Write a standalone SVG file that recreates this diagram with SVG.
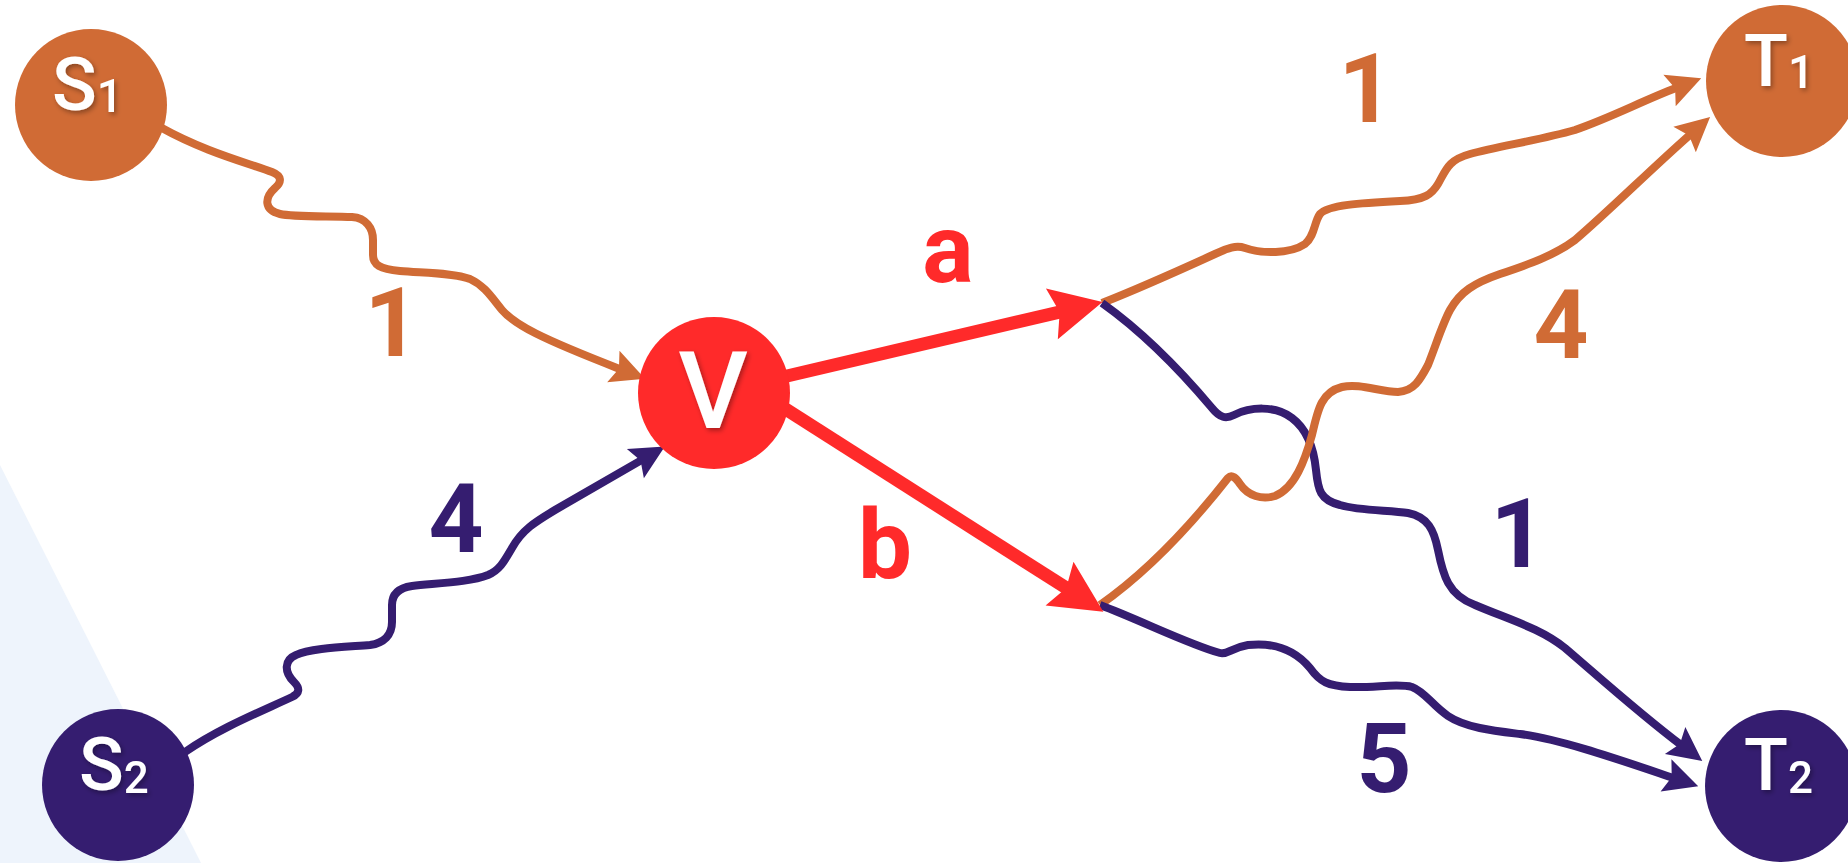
<svg xmlns="http://www.w3.org/2000/svg" width="1848" height="863" viewBox="0 0 1848 863">
  <style>
    .bg { fill: #EEF4FC; }
    .edge { fill: none; stroke-width: 8; stroke-linecap: butt; stroke-linejoin: round; }
    .or { stroke: #D06B35; }
    .pu { stroke: #351D70; }
    .red { fill: none; stroke: #FF2A2A; stroke-width: 13; }
    .nodeO { fill: #D06B35; }
    .nodeP { fill: #351D70; }
    .nodeR { fill: #FF2A2A; }
    .nl { font-family: Roboto, "Liberation Sans", Arial, sans-serif; font-weight: 500; fill: #FFFFFF; filter: url(#shadow); }
    .lbl { font-family: Roboto, "Liberation Sans", Arial, sans-serif; font-weight: 700; font-size: 96px; text-anchor: middle; }
  </style>
  <defs>
    <filter id="shadow" x="-20%" y="-20%" width="140%" height="140%">
      <feDropShadow dx="2" dy="2.5" stdDeviation="2.5" flood-color="#000000" flood-opacity="0.35"/>
    </filter>
    <marker id="hO" markerUnits="userSpaceOnUse" viewBox="0 0 34 34" markerWidth="34" markerHeight="34" refX="8" refY="17" orient="auto" overflow="visible">
      <path d="M34,17 L0,0 L6,17 L0,34 Z" fill="#D06B35"/>
    </marker>
    <marker id="hP" markerUnits="userSpaceOnUse" viewBox="0 0 34 34" markerWidth="34" markerHeight="34" refX="8" refY="17" orient="auto" overflow="visible">
      <path d="M34,17 L0,0 L6,17 L0,34 Z" fill="#351D70"/>
    </marker>
    <marker id="hR" markerUnits="userSpaceOnUse" viewBox="0 0 52 52" markerWidth="52" markerHeight="52" refX="11" refY="26" orient="auto" overflow="visible">
      <path d="M52,26 L0,0 L8,26 L0,52 Z" fill="#FF2A2A"/>
    </marker>
  </defs>

  <polygon class="bg" points="0,465 201,863 0,863"/>

  <g id="connectors">
    <path id="e-s1-v" class="edge or" marker-end="url(#hO)" d="M 160,127 C 205,152 245,162 272,172 C 282,176 282,182 275,188 C 264,198 264,210 280,214 C 292,217 330,216 352,217 C 366,218 373,228 373,240 L 373,255 C 373,265 380,269 400,271 C 425,273 455,273 470,279 C 485,286 492,298 502,310 C 515,325 540,338 620.8,369.4"/>
    <path id="e-s2-v" class="edge pu" marker-end="url(#hP)" d="M 185,752 C 220,728 260,712 292,697 C 300,693 300,688 294,682 C 284,672 284,660 296,655 C 310,648 345,647 370,645 C 384,643 392,635 392,622 L 392,605 C 392,595 398,588 412,586 C 440,583 470,582 488,575 C 500,570 505,560 512,548 C 522,530 535,522 555,510 L 642.3,459.6"/>
    <path id="e-a-t1" class="edge or" marker-end="url(#hO)" d="M 1102,303 C 1140,288 1180,270 1215,254 C 1228,248 1236,245 1245,248 C 1262,254 1290,254 1305,244 C 1315,236 1314,222 1320,214 C 1328,205 1360,203 1400,201 C 1425,200 1432,194 1438,184 C 1446,170 1448,160 1470,154 C 1500,146 1540,140 1575,130 C 1610,118 1640,102 1677,87.6"/>
    <path id="e-a-t2" class="edge pu" marker-end="url(#hP)" d="M 1102,303 C 1140,330 1180,370 1212,408 C 1220,418 1226,419 1234,415 C 1250,407 1275,405 1292,418 C 1308,430 1314,450 1316,470 C 1318,490 1320,500 1340,505 C 1360,511 1390,510 1408,513 C 1428,517 1434,530 1438,550 C 1443,575 1448,595 1475,605 C 1510,620 1540,628 1565,648 C 1600,678 1640,714 1681.5,745.3"/>
    <path id="e-b-t1" class="edge or" marker-end="url(#hO)" d="M 1100,605 C 1150,570 1195,520 1228,478 C 1232,474 1236,478 1240,484 C 1248,496 1262,500 1275,496 C 1295,488 1305,460 1312,435 C 1318,408 1322,392 1342,387 C 1360,383 1380,392 1398,392 C 1414,391 1420,380 1428,365 C 1436,345 1442,325 1450,310 C 1460,292 1474,283 1500,274 C 1530,264 1555,255 1575,240 C 1610,210 1650,170 1690.6,134.2"/>
    <path id="e-b-t2" class="edge pu" marker-end="url(#hP)" d="M 1100,605 C 1140,620 1190,645 1220,653 C 1228,655 1230,648 1248,645 C 1275,642 1295,650 1310,668 C 1320,682 1328,686 1350,687 C 1375,688 1398,683 1412,687 C 1425,692 1432,705 1448,716 C 1466,728 1495,731 1520,734 C 1560,739 1620,760 1673.6,778"/>
    <path id="e-v-a" class="red" marker-end="url(#hR)" d="M 740,387 L 1062.6,311.3"/>
    <path id="e-v-b" class="red" marker-end="url(#hR)" d="M 762,394 L 1068.8,589.6"/>

    <text class="lbl" x="392" y="356" fill="#D06B35">1</text>
    <text class="lbl" x="456" y="552" fill="#351D70">4</text>
    <text class="lbl" x="948" y="282" fill="#FF2A2A" font-size="100">a</text>
    <text class="lbl" x="885" y="578" fill="#FF2A2A" font-size="98">b</text>
    <text class="lbl" x="1366" y="122" fill="#D06B35">1</text>
    <text class="lbl" x="1561" y="358" fill="#D06B35">4</text>
    <text class="lbl" x="1518" y="567" fill="#351D70">1</text>
    <text class="lbl" x="1384" y="792" fill="#351D70">5</text>
  </g>

  <g id="node-s1">
    <circle class="nodeO" cx="91" cy="105" r="76"/>
    <text class="nl" x="52" y="110" font-size="74">S<tspan font-size="46" dy="2">1</tspan></text>
  </g>
  <g id="node-s2">
    <circle class="nodeP" cx="118" cy="785" r="76"/>
    <text class="nl" x="79" y="790" font-size="74">S<tspan font-size="44" dy="3">2</tspan></text>
  </g>
  <g id="node-v">
    <circle class="nodeR" cx="714" cy="393" r="76"/>
    <text class="nl" x="713" y="428" font-size="108" text-anchor="middle">V</text>
  </g>
  <g id="node-t1">
    <circle class="nodeO" cx="1782" cy="81" r="76"/>
    <text class="nl" x="1744" y="86" font-size="72">T<tspan font-size="46" dy="2">1</tspan></text>
  </g>
  <g id="node-t2">
    <circle class="nodeP" cx="1781" cy="786" r="76"/>
    <text class="nl" x="1744" y="790" font-size="72">T<tspan font-size="44" dy="3">2</tspan></text>
  </g>
</svg>
